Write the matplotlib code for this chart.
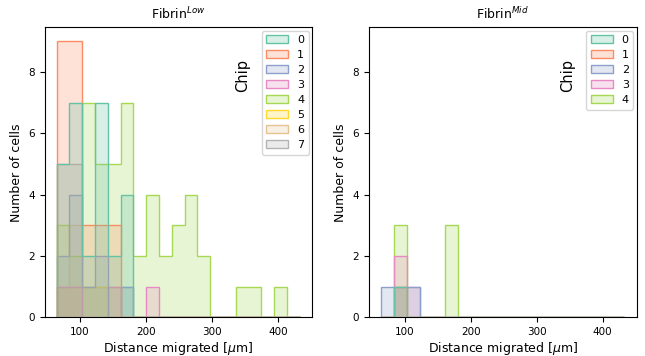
import numpy as np
import matplotlib
matplotlib.use("Agg")
import matplotlib.pyplot as plt
import seaborn as sns
from matplotlib.colors import to_rgba
from matplotlib.patches import Patch

# shared bin edges (19 bins of ~19.4 um)
bin_edges = np.linspace(64.5, 433.0, 20)

# Fibrin Low: counts per bin for each chip
low_chip0 = [5, 7, 2, 7, 2, 4, 0, 0, 0, 0, 0, 0, 0, 0, 0, 0, 0, 0, 0]
low_chip1 = [9, 9, 3, 3, 3, 0, 0, 0, 0, 0, 0, 0, 0, 0, 0, 0, 0, 0, 0]
low_chip2 = [2, 4, 1, 2, 0, 1, 0, 0, 0, 0, 0, 0, 0, 0, 0, 0, 0, 0, 0]
low_chip3 = [1, 1, 0, 0, 1, 0, 0, 1, 0, 0, 0, 0, 0, 0, 0, 0, 0, 0, 0]
low_chip4 = [3, 2, 7, 5, 5, 7, 2, 4, 2, 3, 4, 2, 0, 0, 1, 1, 0, 1, 0]
low_chip5 = [1, 1, 1, 1, 0, 0, 0, 0, 0, 0, 0, 0, 0, 0, 0, 0, 0, 0, 0]
low_chip6 = [1, 3, 0, 0, 0, 0, 0, 0, 0, 0, 0, 0, 0, 0, 0, 0, 0, 0, 0]
low_chip7 = [5, 5, 1, 1, 1, 1, 0, 0, 0, 0, 0, 0, 0, 0, 0, 0, 0, 0, 0]

# Fibrin Mid
mid_chip0 = [0, 1, 0, 0, 0, 0, 0, 0, 0, 0, 0, 0, 0, 0, 0, 0, 0, 0, 0]
mid_chip1 = [0, 1, 0, 0, 0, 0, 0, 0, 0, 0, 0, 0, 0, 0, 0, 0, 0, 0, 0]
mid_chip2 = [1, 1, 1, 0, 0, 0, 0, 0, 0, 0, 0, 0, 0, 0, 0, 0, 0, 0, 0]
mid_chip3 = [0, 2, 1, 0, 0, 0, 0, 0, 0, 0, 0, 0, 0, 0, 0, 0, 0, 0, 0]
mid_chip4 = [0, 3, 0, 0, 0, 3, 0, 0, 0, 0, 0, 0, 0, 0, 0, 0, 0, 0, 0]

low_chips = [low_chip0, low_chip1, low_chip2, low_chip3,
             low_chip4, low_chip5, low_chip6, low_chip7]
mid_chips = [mid_chip0, mid_chip1, mid_chip2, mid_chip3, mid_chip4]


def draw(ax, chips, title):
    pal = sns.color_palette("Set2", len(chips))
    # seaborn-style layering: first chip ends up on top
    for i in reversed(range(len(chips))):
        ax.stairs(chips[i], bin_edges, baseline=0, fill=True,
                  facecolor=to_rgba(pal[i], 0.25), edgecolor=pal[i], linewidth=1.0)
    handles = [Patch(facecolor=to_rgba(pal[i], 0.25), edgecolor=pal[i], label=str(i))
               for i in range(len(chips))]
    ax.legend(handles=handles, loc="upper right", fontsize=8,
              labelspacing=0.45, handlelength=2.0, borderaxespad=0.3)
    ax.text(0.741, 0.835, "Chip", transform=ax.transAxes, rotation=90,
            fontsize=10.5, ha="center", va="center")
    ax.set_title(title, fontsize=9)
    ax.set_xlabel(r"Distance migrated [$\mu$m]", fontsize=9, labelpad=2)
    ax.set_ylabel("Number of cells", fontsize=9)
    ax.set_xticks([100, 200, 300, 400])
    ax.set_yticks([0, 2, 4, 6, 8])
    ax.tick_params(labelsize=7.5)


fig, (ax1, ax2) = plt.subplots(1, 2, figsize=(6.45, 3.56), dpi=100, sharey=True)
fig.subplots_adjust(left=0.069, right=0.987, bottom=0.109, top=0.923, wspace=0.213)

draw(ax1, low_chips, r"Fibrin$^{Low}$")
draw(ax2, mid_chips, r"Fibrin$^{Mid}$")
ax2.tick_params(labelleft=True)
ax2.set_ylabel("Number of cells", fontsize=9)

fig.savefig("out.png", dpi=100)
